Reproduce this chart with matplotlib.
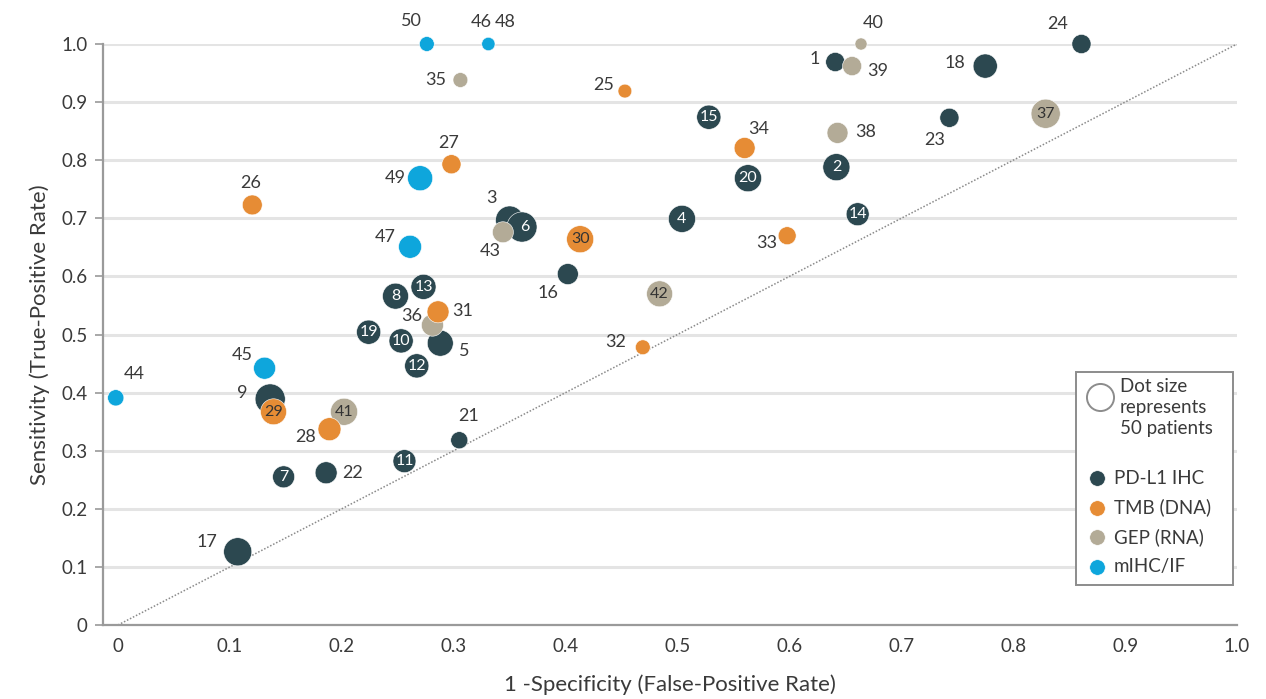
import matplotlib
matplotlib.use("Agg")
import matplotlib.pyplot as plt
from matplotlib.patches import Rectangle

# ---- data: study id, 1-specificity, sensitivity, patients ----
pdl1_ids = [1, 2, 3, 4, 5, 6, 7, 8, 9, 10, 11, 12, 13, 14, 15, 16, 17, 18, 19, 20, 21, 22, 23, 24]
pdl1_fpr = [0.641, 0.642, 0.350, 0.504, 0.288, 0.361, 0.148, 0.248, 0.136, 0.253, 0.256, 0.267,
            0.273, 0.661, 0.528, 0.402, 0.107, 0.775, 0.224, 0.563, 0.305, 0.186, 0.743, 0.861]
pdl1_tpr = [0.969, 0.788, 0.697, 0.699, 0.485, 0.685, 0.255, 0.566, 0.389, 0.489, 0.282, 0.446,
            0.582, 0.707, 0.874, 0.604, 0.126, 0.962, 0.504, 0.769, 0.318, 0.262, 0.873, 1.000]
pdl1_n = [25, 50, 54, 50, 46, 62, 33, 46, 62, 40, 36, 40,
          43, 36, 40, 30, 54, 40, 40, 50, 20, 33, 25, 25]

tmb_ids = [25, 26, 27, 28, 29, 30, 31, 32, 33, 34]
tmb_fpr = [0.453, 0.120, 0.298, 0.189, 0.139, 0.413, 0.286, 0.469, 0.598, 0.560]
tmb_tpr = [0.919, 0.723, 0.793, 0.337, 0.367, 0.664, 0.539, 0.478, 0.670, 0.821]
tmb_n = [13, 27, 25, 36, 46, 50, 33, 15, 22, 30]

gep_ids = [35, 36, 37, 38, 39, 40, 41, 42, 43]
gep_fpr = [0.306, 0.281, 0.829, 0.643, 0.656, 0.664, 0.202, 0.484, 0.344]
gep_tpr = [0.938, 0.516, 0.880, 0.847, 0.962, 1.000, 0.367, 0.570, 0.676]
gep_n = [15, 33, 58, 30, 25, 10, 50, 46, 30]

mihc_ids = [44, 45, 46, 47, 48, 49, 50]
mihc_fpr = [-0.002, 0.131, 0.331, 0.261, 0.331, 0.270, 0.276]
mihc_tpr = [0.391, 0.442, 1.000, 0.651, 1.000, 0.769, 1.000]
mihc_n = [18, 33, 12, 36, 12, 43, 15]

groups = ["PD-L1 IHC", "TMB (DNA)", "GEP (RNA)", "mIHC/IF"]
legend_patients = 50

x_ticks = [0, 0.1, 0.2, 0.3, 0.4, 0.5, 0.6, 0.7, 0.8, 0.9, 1.0]
x_tick_labels = ["0", "0.1", "0.2", "0.3", "0.4", "0.5", "0.6", "0.7", "0.8", "0.9", "1.0"]
y_ticks = [0, 0.1, 0.2, 0.3, 0.4, 0.5, 0.6, 0.7, 0.8, 0.9, 1.0]
y_tick_labels = ["0", "0.1", "0.2", "0.3", "0.4", "0.5", "0.6", "0.7", "0.8", "0.9", "1.0"]

# ---- styling ----
FONT = "Lato"
plt.rcParams["font.family"] = [FONT, "DejaVu Sans"]
TEXT = "#3a3a3a"
colors = {"PD-L1 IHC": "#2c4850", "TMB (DNA)": "#e68c35", "GEP (RNA)": "#b3ab97", "mIHC/IF": "#0ea6dc"}
inside_text = {"PD-L1 IHC": "white", "TMB (DNA)": "#333333", "GEP (RNA)": "#333333", "mIHC/IF": "white"}
SIZE_PER_PATIENT = 7.6  # marker area (pt^2) per patient

# labels drawn inside the dot
inside = {2, 4, 6, 7, 8, 10, 11, 12, 13, 14, 15, 19, 20, 29, 30, 37, 41, 42}
# offsets (pixels) for labels placed next to the dot
offsets = {1: (-21, 3), 3: (-18, 22), 5: (24, -8), 9: (-28, 6), 16: (-20, -19), 17: (-31, 10),
           18: (-30, 3), 21: (9, 24), 22: (26, 0), 23: (-15, -22), 24: (-24, 20),
           25: (-21, 6), 26: (-2, 22), 27: (-3, 21), 28: (-24, -8), 31: (25, 1), 32: (-27, 5),
           33: (-20, -7), 34: (14, 19), 35: (-25, 0), 36: (-21, 9), 38: (28, 1), 39: (26, -5),
           40: (12, 21), 43: (-13, -19), 44: (18, 24), 45: (-22, 13), 46: (-7, 22), 47: (-25, 10),
           48: (17, 22), 49: (-25, 0), 50: (-15, 23)}
# small nudge of the inside label relative to dot centre
inside_nudge = {6: (3, 0)}

fig = plt.figure(figsize=(12.66, 6.99), dpi=100)
ax = fig.add_axes([103 / 1266, 1 - 625 / 699, (1237 - 103) / 1266, (625 - 44) / 699])
ax.set_xlim(-0.0134, 1.0)
ax.set_ylim(0, 1.0)

for y in y_ticks[1:]:
    ax.axhline(y, color="#e4e4e4", lw=2.2, zorder=0)
ax.plot([0, 1], [0, 1], ls=(0, (1, 1.2)), color="#8a8a8a", lw=1.1, zorder=1)

for sp in ["top", "right"]:
    ax.spines[sp].set_visible(False)
ax.spines["left"].set_color("#9a9a9a")
ax.spines["left"].set_linewidth(1.6)
ax.spines["bottom"].set_color("#9a9a9a")
ax.spines["bottom"].set_linewidth(1.6)
ax.set_xticks(x_ticks)
ax.set_xticklabels(x_tick_labels)
ax.set_yticks(y_ticks)
ax.set_yticklabels(y_tick_labels)
ax.tick_params(axis="y", length=6, width=1.2, color="#9a9a9a", labelsize=13.5, labelcolor=TEXT, pad=5)
ax.tick_params(axis="x", length=0, labelsize=13.5, labelcolor=TEXT, pad=9)
ax.set_xlabel("1 -Specificity (False-Positive Rate)", fontsize=16, color=TEXT, labelpad=14)
ax.set_ylabel("Sensitivity (True-Positive Rate)", fontsize=16, color=TEXT, labelpad=8)

series = [
    ("PD-L1 IHC", pdl1_ids, pdl1_fpr, pdl1_tpr, pdl1_n, 3),
    ("GEP (RNA)", gep_ids, gep_fpr, gep_tpr, gep_n, 4),
    ("TMB (DNA)", tmb_ids, tmb_fpr, tmb_tpr, tmb_n, 5),
    ("mIHC/IF", mihc_ids, mihc_fpr, mihc_tpr, mihc_n, 6),
]

for name, ids, xs, ys, ns, z in series:
    ax.scatter(xs, ys, s=[SIZE_PER_PATIENT * n for n in ns], color=colors[name],
               edgecolor="white", linewidth=0.4, zorder=z, clip_on=False)
    for i, x, y in zip(ids, xs, ys):
        if i in inside:
            dx, dy = inside_nudge.get(i, (0, 0))
            ax.annotate(str(i), (x, y), xytext=(dx, dy), textcoords="offset pixels",
                        ha="center", va="center", fontsize=11.5, color=inside_text[name],
                        zorder=z + 0.5, annotation_clip=False)
        else:
            dx, dy = offsets[i]
            ax.annotate(str(i), (x, y), xytext=(dx, dy), textcoords="offset pixels",
                        ha="center", va="center", fontsize=13, color=TEXT,
                        zorder=10, annotation_clip=False)

# ---- legend box ----
lax = fig.add_axes([1076 / 1266, 1 - 585 / 699, (1233 - 1076) / 1266, (585 - 372) / 699])
lax.set_xlim(0, 157)
lax.set_ylim(213, 0)
lax.axis("off")
lax.add_patch(Rectangle((0, 0), 157, 213, transform=lax.transData, facecolor="white",
                        edgecolor="#8c8c8c", lw=1.4, clip_on=False))
lax.scatter([24], [25], s=SIZE_PER_PATIENT * legend_patients, facecolor="white",
            edgecolor="#8c8c8c", linewidth=1.4)
lax.text(44, 6, "Dot size\nrepresents\n%d patients" % legend_patients, ha="left", va="top",
         fontsize=13.5, color=TEXT, linespacing=1.3)
for k, name in enumerate(groups):
    yy = 106 + k * 29.5
    lax.scatter([21], [yy], s=125, color=colors[name], edgecolor="white", linewidth=0.4)
    lax.text(38, yy, name, ha="left", va="center", fontsize=13.5, color=TEXT)

fig.savefig("out.png", dpi=100, facecolor="white")
